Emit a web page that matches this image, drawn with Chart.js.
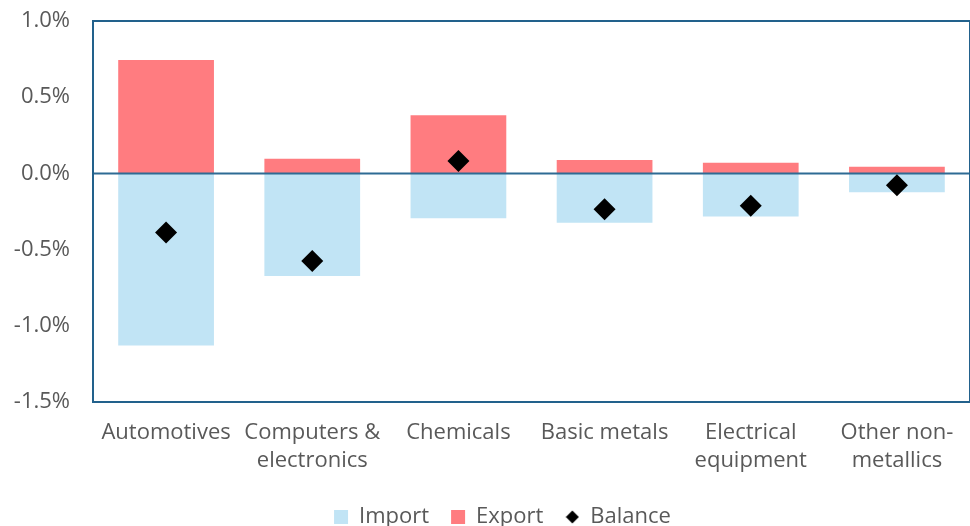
<!DOCTYPE html>
<html>
<head>
<meta charset="utf-8">
<script src="https://cdn.jsdelivr.net/npm/chart.js@4"></script>
<style>
  html, body { margin: 0; padding: 0; background: #fff; }
  #wrap { width: 970px; height: 526px; }
</style>
</head>
<body>
<div id="wrap"><canvas id="tradeChart"></canvas></div>
<script>
// sectors along the x axis
const categories = [
    ['Automotives'],
    ['Computers &', 'electronics'],
    ['Chemicals'],
    ['Basic metals'],
    ['Electrical', 'equipment'],
    ['Other non-', 'metallics']
];
// values in % (shown with one decimal)
const importValues = [-1.13, -0.673, -0.295, -0.323, -0.282, -0.124];
const exportValues = [0.744, 0.096, 0.381, 0.088, 0.07, 0.044];
const balanceValues = [-0.387, -0.575, 0.081, -0.236, -0.212, -0.078];
const yTicks = [1.0, 0.5, 0.0, -0.5, -1.0, -1.5];

const textColor = '#595959';
const frameColor = '#22618C';
const fontFamily = '"Open Sans", "Noto Sans", sans-serif';
const fontSize = 22;

// small diamond used for the legend entry of the balance series
function legendDiamond() {
    const c = document.createElement('canvas');
    c.width = 14; c.height = 14;
    const g = c.getContext('2d');
    g.fillStyle = '#000';
    g.beginPath();
    g.moveTo(7, 0.5); g.lineTo(13.5, 7); g.lineTo(7, 13.5); g.lineTo(0.5, 7);
    g.closePath();
    g.fill();
    return c;
}
const diamondIcon = legendDiamond();

// frame round the plot area and the zero line, drawn over the bars
const framePlugin = {
    id: 'frame',
    beforeDatasetDraw(chart, args) {
        if (args.index !== 2) return;
        const {ctx, chartArea, scales} = chart;
        const y0 = scales.y.getPixelForValue(0);
        ctx.save();
        ctx.strokeStyle = '#2E6B94';
        ctx.lineWidth = 2;
        ctx.beginPath();
        ctx.moveTo(chartArea.left, y0);
        ctx.lineTo(chartArea.right, y0);
        ctx.stroke();
        ctx.strokeStyle = frameColor;
        ctx.strokeRect(chartArea.left, chartArea.top, chartArea.right - chartArea.left, chartArea.bottom - chartArea.top);
        ctx.restore();
    }
};

// nudge the legend row a little right and down
const legendNudge = {
    id: 'legendNudge',
    afterLayout(chart) {
        const lg = chart.legend;
        lg.left += 16; lg.right += 16;
        lg.top += 2; lg.bottom += 2;
    }
};

const ctx = document.getElementById('tradeChart').getContext('2d');
const chart = new Chart(ctx, {
    data: {
        labels: categories,
        datasets: [{
            type: 'bar',
            label: 'Import',
            data: importValues,
            backgroundColor: '#C1E4F5',
            categoryPercentage: 0.655,
            barPercentage: 1,
            order: 1
        }, {
            type: 'bar',
            label: 'Export',
            data: exportValues,
            backgroundColor: '#FF7C80',
            categoryPercentage: 0.655,
            barPercentage: 1,
            order: 1
        }, {
            type: 'line',
            label: 'Balance',
            data: balanceValues,
            showLine: false,
            pointStyle: 'rectRot',
            pointRadius: 11,
            pointHoverRadius: 11,
            backgroundColor: '#000',
            borderColor: '#000',
            borderWidth: 0,
            order: 0
        }]
    },
    options: {
        responsive: true,
        maintainAspectRatio: false,
        animation: false,
        layout: { autoPadding: false, padding: { top: 21, right: -3, left: 0, bottom: 0 } },
        scales: {
            x: {
                stacked: true,
                grid: { display: false, drawTicks: false },
                border: { display: false },
                ticks: {
                    color: textColor,
                    padding: 17,
                    maxRotation: 0,
                    autoSkip: false,
                    font: { family: fontFamily, size: fontSize, lineHeight: 28 / fontSize }
                },
                afterFit(scale) {
                    scale.height = 80;
                    scale.paddingLeft = 0;
                    scale.paddingRight = 0;
                }
            },
            y: {
                stacked: true,
                min: -1.5,
                max: 1.0,
                afterBuildTicks(scale) {
                    scale.ticks = yTicks.map(v => ({ value: v }));
                },
                grid: { display: false, drawTicks: false },
                border: { display: false },
                ticks: {
                    color: textColor,
                    padding: 23,
                    font: { family: fontFamily, size: fontSize },
                    callback: v => v.toFixed(1) + '%'
                },
                afterFit(scale) {
                    scale.width = 93;
                    scale.paddingTop = 0;
                    scale.paddingBottom = 0;
                }
            }
        },
        plugins: {
            tooltip: { enabled: false },
            legend: {
                position: 'bottom',
                maxHeight: 44,
                labels: {
                    color: textColor,
                    font: { family: fontFamily, size: fontSize },
                    usePointStyle: true,
                    boxWidth: 14,
                    boxHeight: 14,
                    padding: 22,
                    sort: (a, b) => a.datasetIndex - b.datasetIndex,
                    generateLabels(c) {
                        const items = Chart.defaults.plugins.legend.labels.generateLabels(c);
                        items.forEach(it => {
                            it.pointStyle = it.datasetIndex === 2 ? diamondIcon : 'rect';
                            it.lineWidth = 0;
                            it.strokeStyle = 'transparent';
                        });
                        return items;
                    }
                }
            }
        }
    },
    plugins: [framePlugin, legendNudge]
});
</script>
</body>
</html>
